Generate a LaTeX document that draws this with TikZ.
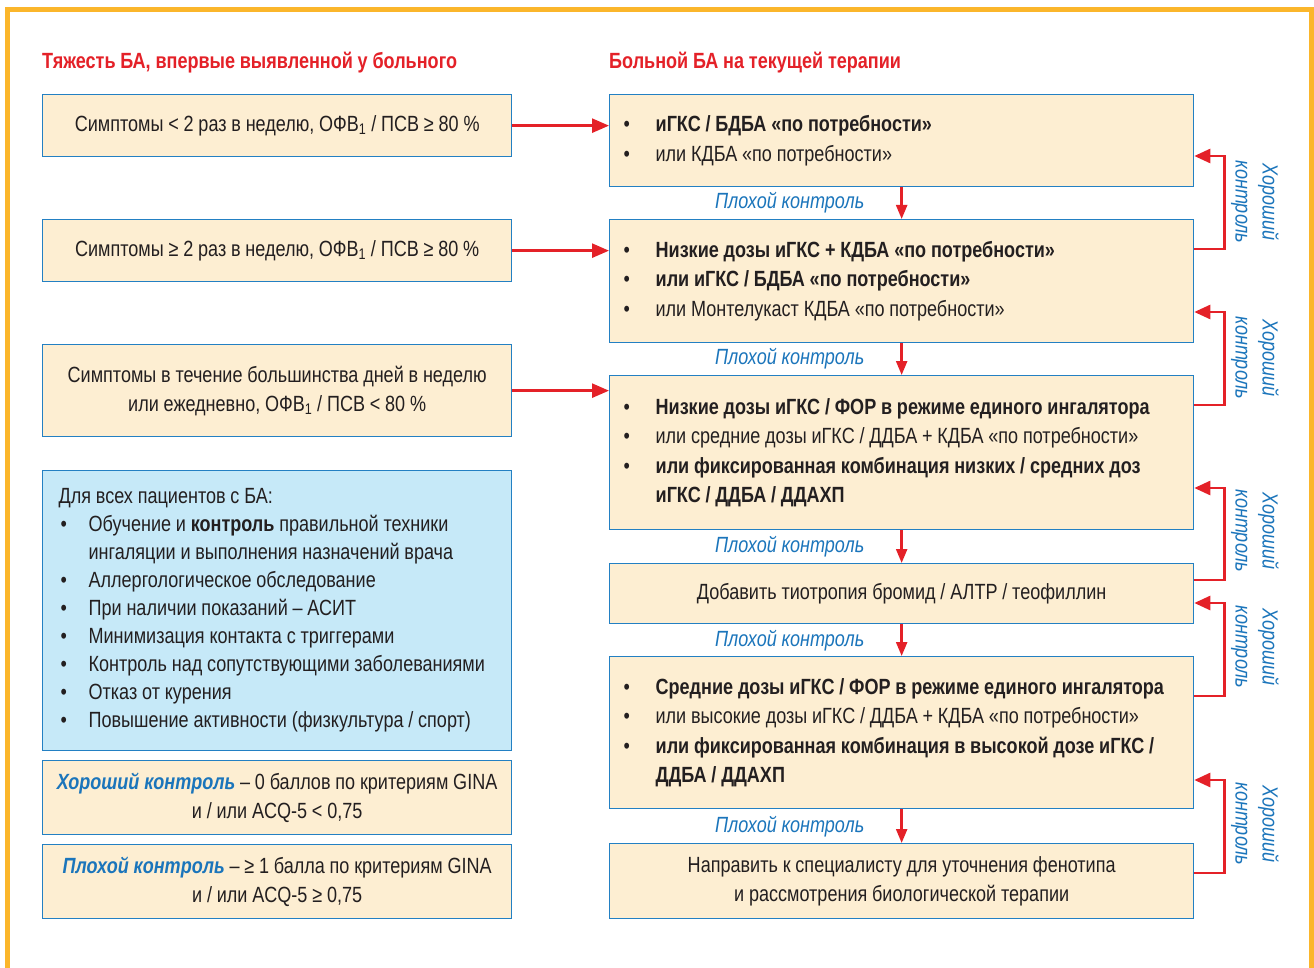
\documentclass[tikz,border=0pt]{standalone}
\usepackage{fontspec}
\setmainfont{Liberation Sans}[FakeStretch=0.82]
\usetikzlibrary{arrows.meta,calc}
\definecolor{orng}{HTML}{FBB62B}
\definecolor{rd}{HTML}{E42128}
\definecolor{tblue}{HTML}{1B75BB}
\definecolor{bblue}{HTML}{2380C3}
\definecolor{beige}{HTML}{FDEED2}
\definecolor{lblue}{HTML}{C6E9F8}
\definecolor{ink}{HTML}{231F20}
\newcommand\bul[1]{\makebox[32pt][l]{•}#1}
\newcommand\bbl[1]{\makebox[30pt][l]{\hspace{2pt}•}#1}
\begin{document}
\begin{tikzpicture}[x=1pt,y=-1pt,
  every node/.append style={execute at begin node={\spaceskip=4.8pt\relax\xspaceskip=4.8pt\relax}},
  box/.style={draw=bblue, line width=1.3pt, fill=beige, inner sep=0pt, anchor=north west, text=ink},
  rbox/.style={box, minimum width=584pt, text width=556pt, align=left, font=\fontsize{22}{29.3}\selectfont},
  lbox/.style={box, minimum width=469pt, text width=458pt, align=center, font=\fontsize{22}{29}\selectfont},
  hdr/.style={anchor=west, text=rd, font=\fontsize{22}{24}\selectfont\bfseries, inner sep=0pt},
  bad/.style={text=tblue, font=\fontsize{22}{24}\selectfont\itshape, inner sep=0pt},
  good/.style={text=tblue, font=\fontsize{22}{27}\selectfont\itshape, align=center, rotate=-90, inner sep=0pt},
  ha/.style={draw=rd, line width=2.6pt, -{Triangle[length=17pt,width=14pt]}},
  da/.style={draw=rd, line width=2.4pt, -{Triangle[length=14pt,width=11pt]}},
  fb/.style={draw=rd, line width=2.6pt, -{Triangle[length=16pt,width=14pt]}}
]
\useasboundingbox (0,0) rectangle (1314,968);
\fill[white] (0,0) rectangle (1314,968);
\draw[orng, line width=5pt] (7.5,972) -- (7.5,9.5) -- (1311.5,9.5) -- (1311.5,972);

% headers
\node[hdr] (h1) at (42,63) {Тяжесть БА, впервые выявленной у больного};
\node[hdr] (h2) at (609,63) {Больной БА на текущей терапии};

% left boxes
\node[lbox, minimum height=62pt] (L1) at (42,94)
  {Симптомы < 2 раз в неделю, ОФВ\textsubscript{1} / ПСВ ≥ 80 \%};
\node[lbox, minimum height=62pt] (L2) at (42,219)
  {Симптомы ≥ 2 раз в неделю, ОФВ\textsubscript{1} / ПСВ ≥ 80 \%};
\node[lbox, minimum height=92pt] (L3) at (42,344)
  {Симптомы в течение большинства дней в неделю\\или ежедневно, ОФВ\textsubscript{1} / ПСВ < 80 \%};
\node[box, fill=lblue, minimum width=469pt, minimum height=280pt, text width=437pt, align=left,
  font=\fontsize{22}{28}\selectfont] (B) at (42,470)
  {Для всех пациентов с БА:\\
   \bbl{Обучение и \textbf{контроль} правильной техники}\\
   \hspace*{30pt}ингаляции и выполнения назначений врача\\
   \bbl{Аллергологическое обследование}\\
   \bbl{При наличии показаний – АСИТ}\\
   \bbl{Минимизация контакта с триггерами}\\
   \bbl{Контроль над сопутствующими заболеваниями}\\
   \bbl{Отказ от курения}\\
   \bbl{Повышение активности (физкультура / спорт)}};
\node[lbox, minimum height=74pt] (G) at (42,760)
  {\textcolor{tblue}{\bfseries\itshape Хороший контроль} – 0 баллов по критериям GINA\\и / или ACQ-5 < 0,75};
\node[lbox, minimum height=74pt] (P) at (42,844)
  {\textcolor{tblue}{\bfseries\itshape Плохой контроль} – ≥ 1 балла по критериям GINA\\и / или ACQ-5 ≥ 0,75};

% right boxes
\node[rbox, minimum height=92pt] (R1) at (609,94)
  {\bul{\textbf{иГКС / БДБА «по потребности»}}\\
   \bul{или КДБА «по потребности»}};
\node[rbox, minimum height=123pt] (R2) at (609,219)
  {\bul{\textbf{Низкие дозы иГКС + КДБА «по потребности»}}\\
   \bul{\textbf{или иГКС / БДБА «по потребности»}}\\
   \bul{или Монтелукаст КДБА «по потребности»}};
\node[rbox, minimum height=154pt] (R3) at (609,375)
  {\bul{\textbf{Низкие дозы иГКС / ФОР в режиме единого ингалятора}}\\
   \bul{или средние дозы иГКС / ДДБА + КДБА «по потребности»}\\
   \bul{\textbf{или фиксированная комбинация низких / средних доз}}\\
   \hspace*{32pt}\textbf{иГКС / ДДБА / ДДАХП}};
\node[rbox, minimum height=60pt, align=center] (R4) at (609,563)
  {Добавить тиотропия бромид / АЛТР / теофиллин};
\node[rbox, minimum height=152pt] (R5) at (609,656)
  {\bul{\textbf{Средние дозы иГКС / ФОР в режиме единого ингалятора}}\\
   \bul{или высокие дозы иГКС / ДДБА + КДБА «по потребности»}\\
   \bul{\textbf{или фиксированная комбинация в высокой дозе иГКС /}}\\
   \hspace*{32pt}\textbf{ДДБА / ДДАХП}};
\node[rbox, minimum height=75pt, align=center] (R6) at (609,843)
  {Направить к специалисту для уточнения фенотипа\\и рассмотрения биологической терапии};

% left to right arrows
\draw[ha] (L1.east) -- (L1.east -| R1.west);
\draw[ha] (L2.east) -- (L2.east -| R2.west);
\draw[ha] (L3.east) -- (L3.east -| R3.west);

% down arrows + labels
\draw[da] (R1.south) -- (R2.north);
\draw[da] (R2.south) -- (R3.north);
\draw[da] (R3.south) -- (R4.north);
\draw[da] (R4.south) -- (R5.north);
\draw[da] (R5.south) -- (R6.north);
\node[bad] (b1) at ($(R1.south)!.5!(R2.north)+(-112,0)$) {Плохой контроль};
\node[bad] (b2) at ($(R2.south)!.5!(R3.north)+(-112,0)$) {Плохой контроль};
\node[bad] (b3) at ($(R3.south)!.5!(R4.north)+(-112,0)$) {Плохой контроль};
\node[bad] (b4) at ($(R4.south)!.5!(R5.north)+(-112,0)$) {Плохой контроль};
\node[bad] (b5) at ($(R5.south)!.5!(R6.north)+(-112,0)$) {Плохой контроль};

% feedback arrows
\draw[fb] ($(R2.north east)+(0,30)$) -| ($(R1.north east)+(30,62)$) -- ($(R1.north east)+(0,62)$);
\draw[fb] ($(R3.north east)+(0,30)$) -| ($(R2.north east)+(30,93)$) -- ($(R2.north east)+(0,93)$);
\draw[fb] ($(R4.north east)+(0,17)$) -| ($(R3.north east)+(30,113)$) -- ($(R3.north east)+(0,113)$);
\draw[fb] ($(R5.north east)+(0,40)$) -| ($(R4.north east)+(30,40)$) -- ($(R4.north east)+(0,40)$);
\draw[fb] ($(R6.north east)+(0,30)$) -| ($(R5.north east)+(30,124)$) -- ($(R5.north east)+(0,124)$);
\node[good] (g1) at (1255,202) {Хороший\\контроль};
\node[good] (g2) at (1255,358) {Хороший\\контроль};
\node[good] (g3) at (1255,531) {Хороший\\контроль};
\node[good] (g4) at (1255,647) {Хороший\\контроль};
\node[good] (g5) at (1255,824) {Хороший\\контроль};
\end{tikzpicture}
\end{document}
